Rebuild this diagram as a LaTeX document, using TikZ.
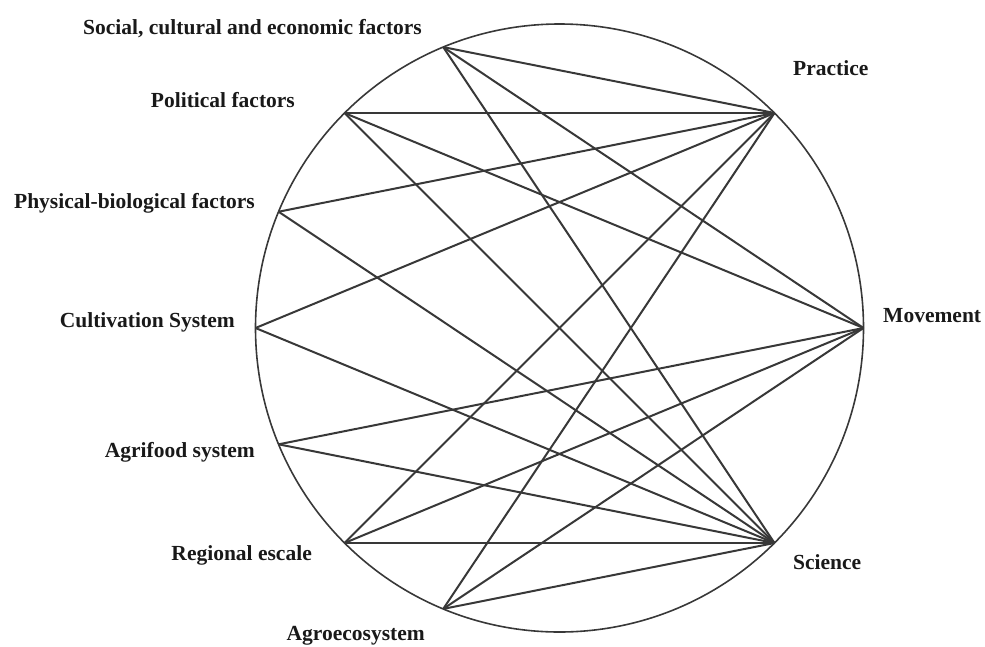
\documentclass[tikz,border=0pt]{standalone}
\usepackage{fontspec}
\setmainfont{Liberation Serif}
\begin{document}
\begin{tikzpicture}[x=1pt,y=-1pt,
  ring/.style={draw=black!78,line width=1.6pt},
  link/.style={draw=black!78,line width=2pt},
  lbl/.style={inner sep=0pt,font=\fontsize{21.5}{24}\selectfont\bfseries,text=black!90}]
\useasboundingbox (0,0) rectangle (985,646);

% outer circle
\coordinate (c) at (559.5,328);
\draw[ring] (c) circle[radius=304pt];

% points on the circle (every 22.5 degrees)
\coordinate (soc) at (443.2,47.1);
\coordinate (pol) at (344.5,113.0);
\coordinate (phy) at (278.6,211.7);
\coordinate (cul) at (255.5,328.0);
\coordinate (agf) at (278.6,444.3);
\coordinate (reg) at (344.5,543.0);
\coordinate (age) at (443.2,608.9);
\coordinate (pra) at (774.5,113.0);
\coordinate (mov) at (863.5,328.0);
\coordinate (sci) at (774.5,543.0);

% connections
\foreach \a/\b in {soc/pra,soc/mov,soc/sci,
                   pol/pra,pol/mov,pol/sci,
                   phy/pra,phy/sci,
                   cul/pra,cul/sci,
                   agf/mov,agf/sci,
                   reg/pra,reg/mov,reg/sci,
                   age/pra,age/mov,age/sci}
  \draw[link] (\a) -- (\b);

% labels
\node[lbl,anchor=base east] (tsoc) at (422,34.5) {Social, cultural and economic factors};
\node[lbl,anchor=base east] (tpol) at (295,107) {Political factors};
\node[lbl,anchor=base east] (tphy) at (255,208) {Physical-biological factors};
\node[lbl,anchor=base east] (tcul) at (235,327) {Cultivation System};
\node[lbl,anchor=base east] (tagf) at (255,457) {Agrifood system};
\node[lbl,anchor=base east] (treg) at (312,560) {Regional escale};
\node[lbl,anchor=base east] (tage) at (425,640) {Agroecosystem};
\node[lbl,anchor=base west] (tpra) at (793,75) {Practice};
\node[lbl,anchor=base west] (tmov) at (883,322) {Movement};
\node[lbl,anchor=base west] (tsci) at (793,569) {Science};
\end{tikzpicture}
\end{document}
